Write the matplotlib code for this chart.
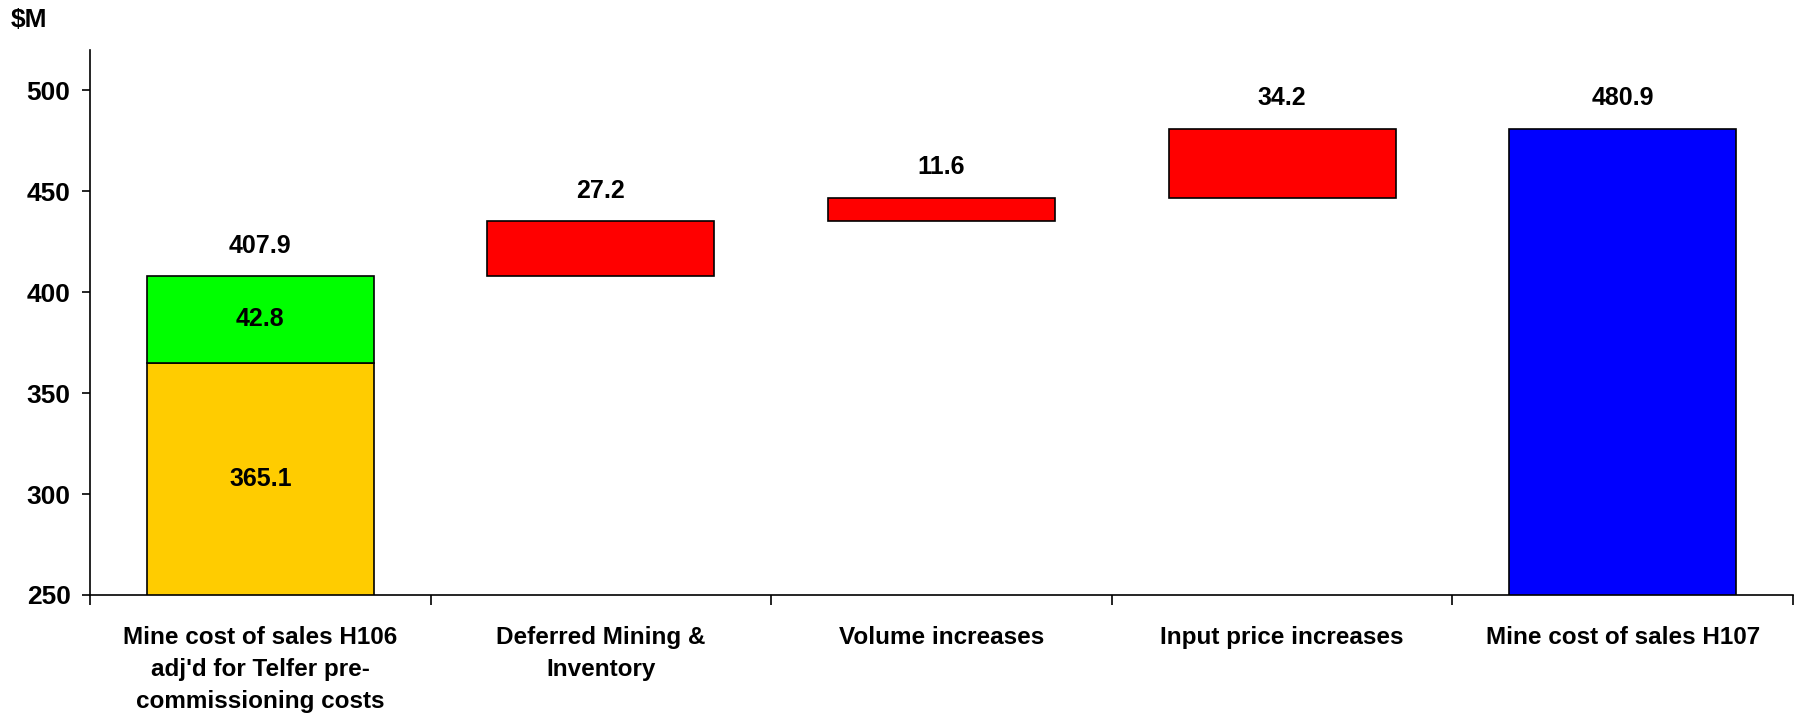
import matplotlib
matplotlib.use("Agg")
import matplotlib.pyplot as plt
import numpy as np

categories = ["Mine cost of sales H106\nadj'd for Telfer pre-\ncommissioning costs",
              "Deferred Mining &\nInventory",
              "Volume increases",
              "Input price increases",
              "Mine cost of sales H107"]
base_value = 365.1
adjustment = 42.8
start_total = 407.9
changes = [27.2, 11.6, 34.2]
end_total = 480.9
yticks = [250, 300, 350, 400, 450, 500]

plt.rcParams['font.family'] = ['Liberation Sans', 'DejaVu Sans']
plt.rcParams['font.weight'] = 'bold'

fig = plt.figure(figsize=(17.95, 7.15), dpi=100)
ax = fig.add_axes([90/1795, 1-595/715, (1793-90)/1795, (595-50)/715])

x = np.arange(len(categories))
w = 0.667
ec = 'black'
lw = 1.2
vfs = 18

# first bar stacked
ax.bar(x[0], base_value, width=w, color='#FFCC00', edgecolor=ec, linewidth=lw)
ax.bar(x[0], adjustment, bottom=base_value, width=w, color='#00FF00', edgecolor=ec, linewidth=lw)
ax.text(x[0], (250 + base_value) / 2, f"{base_value:.1f}", ha='center', va='center', fontsize=vfs, fontweight='bold')
ax.text(x[0], base_value + adjustment / 2, f"{adjustment:.1f}", ha='center', va='center', fontsize=vfs, fontweight='bold')
ax.annotate(f"{start_total:.1f}", (x[0], start_total), xytext=(0, 22), textcoords='offset points',
            ha='center', va='center', fontsize=vfs, fontweight='bold')

cum = start_total
for i, c in enumerate(changes):
    xi = x[i + 1]
    ax.bar(xi, c, bottom=cum, width=w, color='#FF0000', edgecolor=ec, linewidth=lw)
    ax.annotate(f"{c:.1f}", (xi, cum + c), xytext=(0, 22), textcoords='offset points',
                ha='center', va='center', fontsize=vfs, fontweight='bold')
    cum += c

ax.bar(x[4], end_total, width=w, color='#0000FF', edgecolor=ec, linewidth=lw)
ax.annotate(f"{end_total:.1f}", (x[4], end_total), xytext=(0, 22), textcoords='offset points',
            ha='center', va='center', fontsize=vfs, fontweight='bold')

ax.set_xlim(-0.5, len(categories) - 0.5)
ax.set_ylim(250, 520)
ax.set_yticks(yticks)
ax.set_yticklabels([str(t) for t in yticks], fontsize=19, fontweight='bold')
ax.tick_params(axis='y', length=6, width=1.2, pad=8)

ax.set_xticks(x)
ax.set_xticklabels(categories, fontsize=17.5, fontweight='bold', linespacing=1.5, va='top')
ax.tick_params(axis='x', length=0, pad=22)
ax.set_xticks(np.arange(len(categories) + 1) - 0.5, minor=True)
ax.tick_params(axis='x', which='minor', length=7, width=1.2)

for s in ['top', 'right']:
    ax.spines[s].set_visible(False)
for s in ['left', 'bottom']:
    ax.spines[s].set_linewidth(1.2)

fig.text(11/1795, 1 - 20/715, "\\$M", ha='left', va='center', fontsize=19, fontweight='bold')

fig.savefig("out.png", dpi=100)
